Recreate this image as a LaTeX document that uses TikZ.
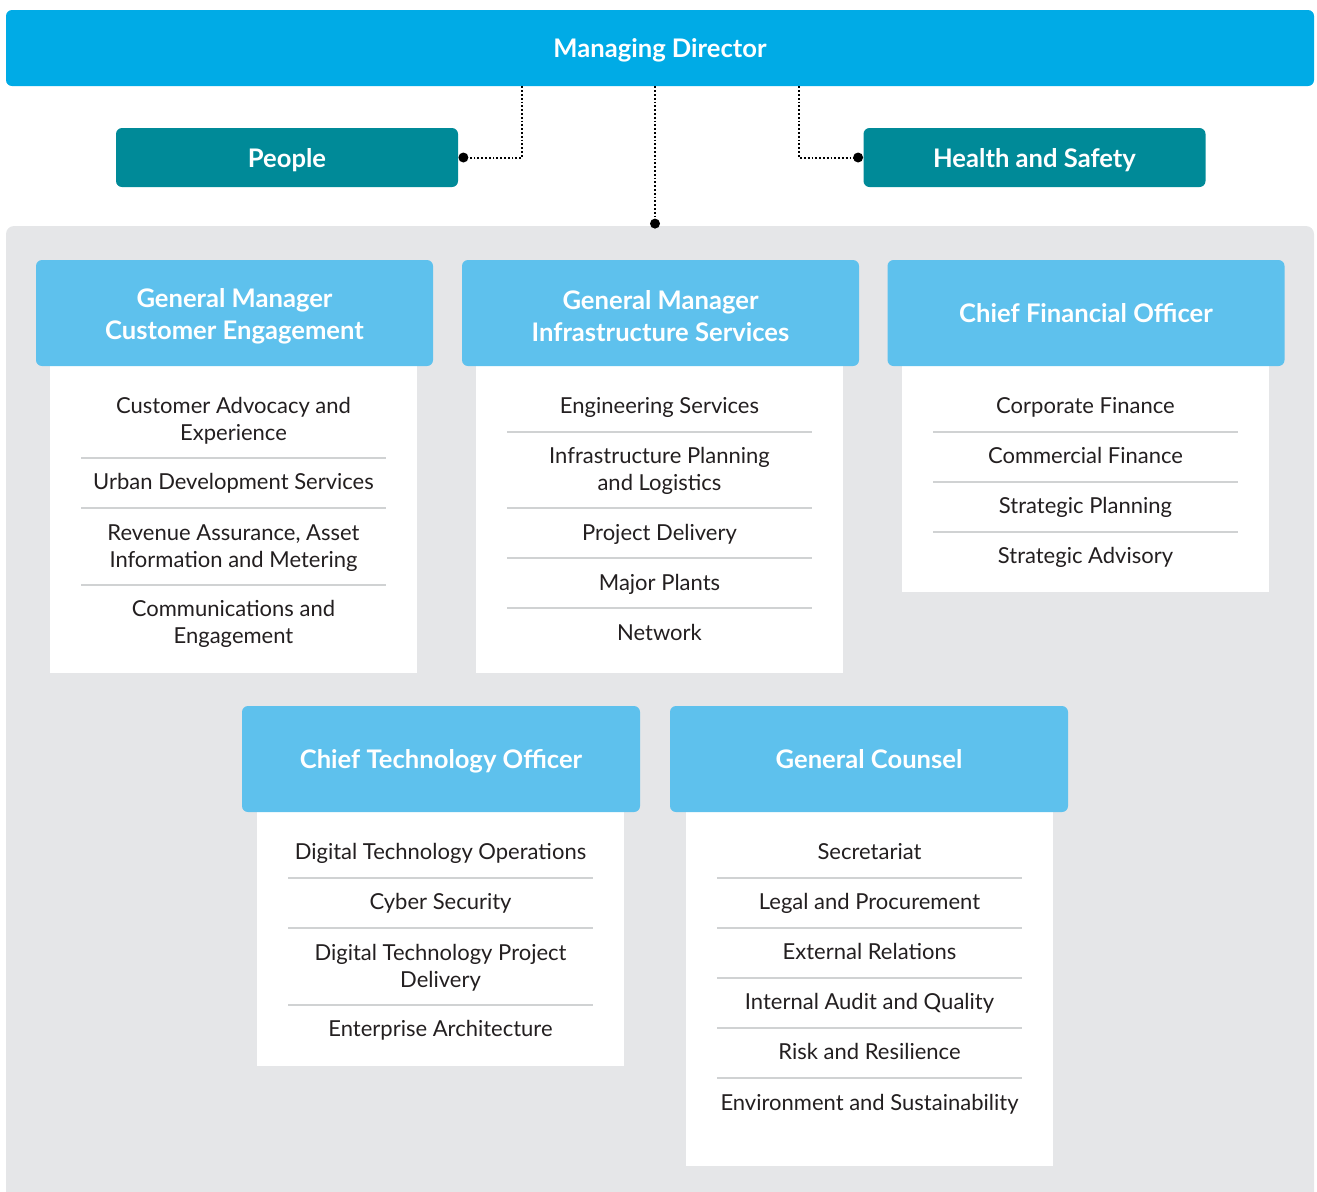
\documentclass[tikz,border=0pt]{standalone}
\usepackage{fontspec}
\setmainfont{Lato}
\definecolor{mdblue}{HTML}{00ABE6}
\definecolor{teal}{HTML}{008A98}
\definecolor{hdrblue}{HTML}{5EC1ED}
\definecolor{panelgray}{HTML}{E5E6E8}
\definecolor{divgray}{HTML}{D0D2D3}
\definecolor{itemtext}{HTML}{231F20}
\tikzset{
  topbox/.style={fill=mdblue, rounded corners=3pt, inner sep=0pt},
  sidebox/.style={fill=teal, rounded corners=3pt, inner sep=0pt, minimum width=171pt, minimum height=29.5pt},
  hdr/.style={fill=hdrblue, rounded corners=3pt, inner sep=0pt, minimum width=198.5pt, minimum height=53pt},
  boxtext/.style={text=white, align=center, font=\bfseries\fontsize{12.8}{16}\selectfont, inner sep=0pt},
  onetext/.style={boxtext, text height=9.3pt, text depth=2.7pt},
  bodybox/.style={fill=white, inner sep=0pt, minimum width=183.5pt},
  item/.style={text=itemtext, align=center, font=\fontsize{11}{13.5}\selectfont, inner sep=0pt, yshift=-1pt},
  single/.style={item, text height=8pt, text depth=2.3pt},
  divider/.style={draw=divgray, line width=0.6pt},
  conn/.style={draw=black, line width=1pt, dash pattern=on 0.9pt off 1pt},
  enddot/.style={circle, fill=black, inner sep=0pt, minimum size=5pt}
}
\begin{document}
\begin{tikzpicture}[x=0.5pt,y=-0.5pt]
\useasboundingbox (0,0) rectangle (1317,1191);
\clip (0,0) rectangle (1317,1191);
% panel
\node[fill=panelgray, rounded corners=4pt, inner sep=0pt, minimum width=654pt, minimum height=489.5pt] (panel) at (660,715.5) {};
% top
\node[topbox, minimum width=654pt, minimum height=38pt] (md) at (660,48) {};
\node[onetext] (mdT) at ([yshift=-1.6pt]md.center) {Managing Director};
\node[sidebox] (pp) at (287,157.5) {};
\node[onetext] (ppT) at ([yshift=-1.6pt]pp.center) {People};
\node[sidebox] (hs) at (1034.5,157.5) {};
\node[onetext] (hsT) at ([yshift=-1.6pt]hs.center) {Health and Safety};
% connectors
\draw[conn] ([xshift=-69pt]md.south) |- ([xshift=2.5pt]pp.east);
\node[enddot] (d1) at ([xshift=2.5pt]pp.east) {};
\draw[conn] ([xshift=69.5pt]md.south) |- ([xshift=-2.5pt]hs.west);
\node[enddot] (d2) at ([xshift=-2.5pt]hs.west) {};
\draw[conn] ([xshift=-2.5pt]md.south) -- ([xshift=-2.5pt,yshift=1pt]md.south |- panel.north);
\node[enddot] (d3) at ([xshift=-2.5pt,yshift=1pt]md.south |- panel.north) {};
% bodies
\node[bodybox, minimum height=153.5pt] (ceb) at (233.5,519.5) {};
\node[bodybox, minimum height=153.5pt] (isb) at (659.5,519.5) {};
\node[bodybox, minimum height=113pt] (cfob) at (1085.5,479) {};
\node[bodybox, minimum height=127pt] (ctob) at (440.5,939) {};
\node[bodybox, minimum height=177pt] (gcb) at (869.5,989) {};
% headers
\node[hdr] (ce) at (234.5,313) {};
\node[boxtext] (ceT) at ([yshift=-1.5pt]ce.center) {General Manager\\Customer Engagement};
\node[hdr] (is) at (660.5,313) {};
\node[boxtext] (isT) at ([yshift=-1.5pt]is.center) {General Manager\\Infrastructure Services};
\node[hdr] (cfo) at (1086,313) {};
\node[onetext] (cfoT) at ([yshift=-1.4pt]cfo.center) {Chief Financial Officer};
\node[hdr, minimum width=199pt] (cto) at (441,759) {};
\node[onetext] (ctoT) at ([yshift=-1.4pt]cto.center) {Chief Technology Officer};
\node[hdr, minimum width=199pt] (gc) at (869,759) {};
\node[onetext] (gcT) at ([yshift=-1.4pt]gc.center) {General Counsel};
% dividers
\foreach \y in {458,508,585} \draw[divider] (81,\y) -- (386,\y);
\foreach \y in {432,508,558,608} \draw[divider] (507,\y) -- (812,\y);
\foreach \y in {432,482,532} \draw[divider] (933,\y) -- (1238,\y);
\foreach \y in {878,928,1005} \draw[divider] (288,\y) -- (593,\y);
\foreach \y in {878,928,978,1028,1078} \draw[divider] (717,\y) -- (1022,\y);
% items CE
\node[item] (ce1) at (233.5,419) {Customer Advocacy and\\Experience};
\node[single] (ce2) at (233.5,482) {Urban Development Services};
\node[item] (ce3) at (233.5,546) {Revenue Assurance, Asset\\Information and Metering};
\node[item] (ce4) at (233.5,622) {Communications and\\Engagement};
% items IS
\node[single] (is1) at (659.5,406) {Engineering Services};
\node[item] (is2) at (659.5,469) {Infrastructure Planning\\and Logistics};
\node[single] (is3) at (659.5,533) {Project Delivery};
\node[single] (is4) at (659.5,583) {Major Plants};
\node[single] (is5) at (659.5,633) {Network};
% items CFO
\node[single] (cf1) at (1085.5,406) {Corporate Finance};
\node[single] (cf2) at (1085.5,456) {Commercial Finance};
\node[single] (cf3) at (1085.5,506) {Strategic Planning};
\node[single] (cf4) at (1085.5,556) {Strategic Advisory};
% items CTO
\node[single] (ct1) at (440.5,852) {Digital Technology Operations};
\node[single] (ct2) at (440.5,902) {Cyber Security};
\node[item] (ct3) at (440.5,966) {Digital Technology Project\\Delivery};
\node[single] (ct4) at (440.5,1029) {Enterprise Architecture};
% items GC
\node[single] (gc1) at (869.5,852) {Secretariat};
\node[single] (gc2) at (869.5,902) {Legal and Procurement};
\node[single] (gc3) at (869.5,952) {External Relations};
\node[single] (gc4) at (869.5,1002) {Internal Audit and Quality};
\node[single] (gc5) at (869.5,1052) {Risk and Resilience};
\node[single] (gc6) at (869.5,1103) {Environment and Sustainability};
\end{tikzpicture}
\end{document}
